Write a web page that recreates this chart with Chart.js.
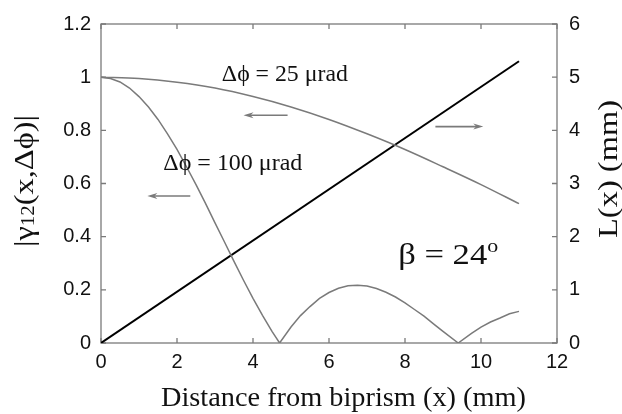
<!DOCTYPE html>
<html>
<head>
<meta charset="utf-8">
<script src="https://cdn.jsdelivr.net/npm/chart.js@4.4.1/dist/chart.umd.min.js"></script>
<style>
  html, body { margin: 0; padding: 0; background: #fff; }
</style>
</head>
<body>
<canvas id="coherence" width="622" height="414"></canvas>
<script>
// Degree of coherence vs. distance from biprism, two angular spreads
const xWide = [0, 1, 2, 3, 4, 5, 6, 7, 8, 9, 10, 11];
const gamma25 = [1, 0.995, 0.981, 0.959, 0.927, 0.888, 0.841, 0.787, 0.728, 0.663, 0.596, 0.524];

const xNarrow = [0, 0.25, 0.5, 0.75, 1, 1.25, 1.5, 1.75, 2, 2.25, 2.5, 2.75, 3, 3.25, 3.5, 3.75, 4, 4.25, 4.5, 4.7,
  5, 5.25, 5.5, 5.75, 6, 6.25, 6.5, 6.75, 7, 7.25, 7.5, 7.75, 8, 8.25, 8.5, 8.75, 9, 9.4,
  9.75, 10, 10.25, 10.5, 10.75, 11];
const gamma100 = [1, 0.995, 0.982, 0.959, 0.927, 0.888, 0.841, 0.787, 0.728, 0.663, 0.596, 0.525, 0.452, 0.380, 0.307, 0.236, 0.168, 0.104, 0.044, 0,
  0.060, 0.103, 0.137, 0.168, 0.190, 0.206, 0.215, 0.217, 0.214, 0.205, 0.191, 0.173, 0.151, 0.126, 0.101, 0.072, 0.044, 0,
  0.036, 0.060, 0.079, 0.094, 0.110, 0.119];

// Fringe field width L(x), right axis
const xFringe = [0, 11];
const fringeLength = [0, 5.3];

const GREY = '#7a7a7a';
const INK = '#111';
const SERIF = '"Liberation Serif", "DejaVu Serif", serif';
const SANS = '"Liberation Sans", Arial, sans-serif';

// Text labels and arrows placed in data units (x in mm, y on the left axis)
const notes = [
  { x: 3.18, y: 0.986, width: 126, parts: [{ text: 'Δϕ = 25 μrad', size: 23 }] },
  { x: 1.64, y: 0.650, width: 139, parts: [{ text: 'Δϕ = 100 μrad', size: 23 }] },
  { x: 7.82, y: 0.296, width: 100, parts: [{ text: 'β = 24', size: 30 }, { text: 'o', size: 19, dy: -12 }] }
];
const arrows = [
  { x0: 4.91, x1: 3.75, y: 0.857 },
  { x0: 2.35, x1: 1.22, y: 0.553 },
  { x0: 8.80, x1: 10.06, y: 0.814 }
];

function toPoints(xs, ys) {
  return xs.map((x, i) => ({ x: x, y: ys[i] }));
}

// Draw a run of text pieces starting at (0,0), stretched to a given width
function drawRun(ctx, parts, width, center) {
  let total = 0;
  parts.forEach(p => {
    ctx.font = p.size + 'px ' + (p.family || SERIF);
    p.w = ctx.measureText(p.text).width;
    total += p.w;
  });
  const sx = width ? width / total : 1;
  ctx.save();
  if (center) ctx.translate(-total * sx / 2, 0);
  ctx.scale(sx, 1);
  let cx = 0;
  parts.forEach(p => {
    ctx.font = p.size + 'px ' + (p.family || SERIF);
    ctx.fillText(p.text, cx, p.dy || 0);
    cx += p.w;
  });
  ctx.restore();
}

const framePlugin = {
  id: 'frame',
  beforeDatasetsDraw(chart) {
    const { ctx, chartArea: a, scales } = chart;
    ctx.save();
    ctx.strokeStyle = GREY;
    ctx.lineWidth = 1.3;
    ctx.strokeRect(a.left, a.top, a.right - a.left, a.bottom - a.top);

    // inward tick marks on all four sides
    const len = 5;
    ctx.beginPath();
    scales.x.ticks.forEach(t => {
      const px = scales.x.getPixelForValue(t.value);
      ctx.moveTo(px, a.bottom); ctx.lineTo(px, a.bottom - len);
      ctx.moveTo(px, a.top); ctx.lineTo(px, a.top + len);
    });
    scales.y.ticks.forEach(t => {
      const py = scales.y.getPixelForValue(t.value);
      ctx.moveTo(a.left, py); ctx.lineTo(a.left + len, py);
    });
    scales.y2.ticks.forEach(t => {
      const py = scales.y2.getPixelForValue(t.value);
      ctx.moveTo(a.right, py); ctx.lineTo(a.right - len, py);
    });
    ctx.stroke();
    ctx.restore();
  },
  afterDatasetsDraw(chart) {
    const { ctx, scales } = chart;
    const sx = scales.x, sy = scales.y;
    ctx.save();
    ctx.fillStyle = INK;
    ctx.textBaseline = 'alphabetic';

    notes.forEach(n => {
      ctx.save();
      ctx.translate(sx.getPixelForValue(n.x), sy.getPixelForValue(n.y));
      drawRun(ctx, n.parts, n.width, false);
      ctx.restore();
    });

    // arrows pointing to the axis each curve belongs to
    ctx.strokeStyle = GREY;
    ctx.fillStyle = GREY;
    ctx.lineWidth = 1.6;
    arrows.forEach(ar => {
      const p0 = sx.getPixelForValue(ar.x0);
      const p1 = sx.getPixelForValue(ar.x1);
      const py = sy.getPixelForValue(ar.y);
      const dir = Math.sign(p1 - p0);
      ctx.beginPath();
      ctx.moveTo(p0, py);
      ctx.lineTo(p1 - dir * 6, py);
      ctx.stroke();
      ctx.beginPath();
      ctx.moveTo(p1, py);
      ctx.lineTo(p1 - dir * 10, py - 3);
      ctx.lineTo(p1 - dir * 7, py);
      ctx.lineTo(p1 - dir * 10, py + 3);
      ctx.closePath();
      ctx.fill();
    });

    // axis titles
    ctx.fillStyle = INK;
    ctx.save();
    ctx.translate(343.5, 406);
    drawRun(ctx, [{ text: 'Distance from biprism (x) (mm)', size: 27 }], 365, true);
    ctx.restore();

    ctx.save();
    ctx.translate(33, 181);
    ctx.rotate(-Math.PI / 2);
    drawRun(ctx, [
      { text: '|γ', size: 28 },
      { text: '12', size: 18, dy: 1 },
      { text: '(x,Δϕ)|', size: 28 }
    ], 132, true);
    ctx.restore();

    ctx.save();
    ctx.translate(617, 169);
    ctx.rotate(-Math.PI / 2);
    drawRun(ctx, [{ text: 'L(x) (mm)', size: 27 }], 138, true);
    ctx.restore();

    ctx.restore();
  }
};

const tickFont = { family: SANS, size: 20 };

new Chart(document.getElementById('coherence').getContext('2d'), {
  type: 'line',
  data: {
    datasets: [
      {
        label: 'Δϕ = 25 μrad',
        data: toPoints(xWide, gamma25),
        borderColor: GREY,
        borderWidth: 1.5,
        cubicInterpolationMode: 'monotone',
        pointRadius: 0,
        yAxisID: 'y'
      },
      {
        label: 'Δϕ = 100 μrad',
        data: toPoints(xNarrow, gamma100),
        borderColor: GREY,
        borderWidth: 1.5,
        tension: 0,
        pointRadius: 0,
        yAxisID: 'y'
      },
      {
        label: 'L(x)',
        data: toPoints(xFringe, fringeLength),
        borderColor: '#000',
        borderWidth: 2,
        pointRadius: 0,
        yAxisID: 'y2'
      }
    ]
  },
  options: {
    responsive: false,
    animation: false,
    events: [],
    layout: { padding: { top: 16, left: 0, right: 0, bottom: 0 } },
    plugins: {
      legend: { display: false },
      tooltip: { enabled: false }
    },
    scales: {
      x: {
        type: 'linear',
        min: 0,
        max: 12,
        grid: { display: false, drawTicks: false },
        border: { display: false },
        ticks: { stepSize: 2, font: tickFont, color: INK, padding: 7, maxRotation: 0 },
        afterFit: s => { s.height = 71; }
      },
      y: {
        position: 'left',
        min: 0,
        max: 1.2,
        grid: { display: false, drawTicks: false },
        border: { display: false },
        ticks: {
          stepSize: 0.2,
          font: tickFont,
          color: INK,
          padding: 10,
          callback: v => String(+v.toFixed(1))
        },
        afterFit: s => { s.width = 101; }
      },
      y2: {
        position: 'right',
        min: 0,
        max: 6,
        grid: { display: false, drawTicks: false },
        border: { display: false },
        ticks: { stepSize: 1, font: tickFont, color: INK, padding: 12 },
        afterFit: s => { s.width = 65; }
      }
    }
  },
  plugins: [framePlugin]
});
</script>
</body>
</html>
